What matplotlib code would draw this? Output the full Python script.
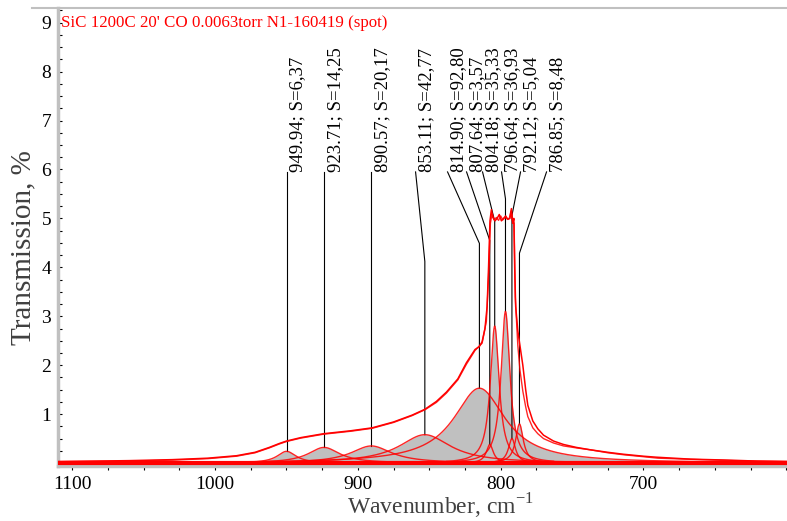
import numpy as np
import matplotlib
matplotlib.use("Agg")
import matplotlib.pyplot as plt
import matplotlib.transforms as mtransforms
from matplotlib.lines import Line2D

plt.rcParams['font.family'] = ['Liberation Serif', 'DejaVu Serif']
plt.rcParams['mathtext.fontset'] = 'custom'
plt.rcParams['mathtext.rm'] = 'Liberation Serif'

# fitted components (Lorentz-like bands)
centers = [949.94, 923.71, 890.57, 853.11, 814.90, 807.64, 804.18, 796.64, 792.12, 786.85]
areas = ['6,37', '14,25', '20,17', '42,77', '92,80', '3,57', '35,33', '36,93', '5,04', '8,48']
heights = [0.24, 0.32, 0.35, 0.58, 1.53, 0.38, 2.80, 3.10, 0.50, 0.80]
fwhm = [16, 27, 35, 44, 44, 6, 7.5, 7.5, 6, 6.5]

meas_wn = [1110, 1060, 1030, 1005, 985, 972, 962, 955, 950, 940, 924, 905, 890, 875,
           862, 853, 845, 838, 830, 824, 818, 815, 813, 811, 809.5, 808.5, 807.5,
           806.5, 805.5, 804, 802.5, 801, 799.5, 798, 796.5, 795, 793.5, 792.5,
           791.5, 790.8, 790.2, 789.5, 788, 786.5, 784.5, 782.5, 781, 777.5, 774,
           770, 763, 756, 747, 737, 725, 714, 700, 691, 667, 640, 620, 596]
meas_y = [0.03, 0.05, 0.07, 0.10, 0.15, 0.22, 0.32, 0.40, 0.45, 0.52, 0.60, 0.66, 0.72, 0.84,
          0.98, 1.10, 1.26, 1.45, 1.72, 2.05, 2.32, 2.38, 2.48, 2.75, 3.2, 4.0, 4.95,
          5.18, 5.02, 4.95, 5.0, 5.08, 4.95, 5.0, 5.05, 4.98, 5.0, 5.2,
          4.9, 5.0, 4.0, 3.2, 2.7, 2.4, 2.0, 1.5, 1.18, 0.86, 0.70,
          0.57, 0.45, 0.38, 0.32, 0.27, 0.22, 0.18, 0.14, 0.12, 0.08, 0.06, 0.04, 0.03]
fit_wn = [1110, 1060, 1030, 1005, 985, 972, 962, 955, 950, 940, 924, 905, 890, 875,
          862, 853, 845, 838, 830, 824, 818, 813, 810, 808.5, 807.2, 806, 804.5,
          803, 801.5, 800, 798.5, 797, 795.5, 794, 792.8, 791.8, 790.6, 789.8,
          788, 786.5, 784.5, 782.5, 781, 777.5, 774, 770, 763, 756, 747, 737,
          725, 714, 700, 690, 660, 640, 620, 596]
fit_y = [0.03, 0.04, 0.06, 0.09, 0.14, 0.21, 0.31, 0.39, 0.44, 0.51, 0.59, 0.65, 0.71, 0.83,
         0.97, 1.09, 1.24, 1.43, 1.70, 2.02, 2.30, 2.45, 2.9, 3.8, 4.9, 5.1, 4.97,
         5.02, 4.96, 5.05, 4.97, 5.02, 4.99, 5.0, 5.15, 4.95, 4.9, 3.4,
         2.4, 1.9, 1.47, 1.15, 0.95, 0.72, 0.60, 0.50, 0.41, 0.35, 0.31, 0.27,
         0.21, 0.17, 0.13, 0.10, 0.07, 0.05, 0.04, 0.03]

title = "SiC 1200C 20' CO 0.0063torr N1-160419 (spot)"

# layout of the band labels (x of the label foot, height of the bend)
label_x = [949.94, 923.71, 890.57, 859.6, 837.2, 823.9, 812.7, 799.4, 786.1, 767.9]
label_y = 5.95
knee_y = [5.95, 5.95, 5.95, 4.12, 4.49, 4.55, 4.94, 5.4, 5.06, 4.29]

fig = plt.figure(figsize=(7.87, 5.21), dpi=100)
ax = fig.add_axes([58 / 787, (521 - 466) / 521, (787 - 58) / 787, (466 - 8) / 521])

grid = np.linspace(1110, 596, 3000)
curves = []
for c, h, w in zip(centers, heights, fwhm):
    hw = w / 2.0
    y = h * hw ** 2 / ((grid - c) ** 2 + hw ** 2)
    mask = np.abs(grid - c) <= 4.5 * w
    curves.append((grid[mask], y[mask]))

for gx, gy in curves:
    ax.fill_between(gx, 0, gy, color='#c0c0c0', lw=0, zorder=1)

for c, h, lx, ky in zip(centers, heights, label_x, knee_y):
    ax.plot([lx, c, c], [label_y, ky, h], color='black', lw=0.8, zorder=2)

ax.axhline(0.0, color='red', lw=3, zorder=3)
for gx, gy in curves:
    ax.plot(gx, gy, color='red', lw=1.0, alpha=0.85, zorder=3)
ax.plot(fit_wn, fit_y, color='red', lw=1.0, alpha=0.85, zorder=4)
ax.plot(meas_wn, meas_y, color='red', lw=1.1, zorder=4)

off = mtransforms.offset_copy(ax.transData, fig=fig, x=3, y=0, units='dots')
for lx, c, s in zip(label_x, centers, areas):
    ax.text(lx, label_y, '%.2f; S=%s' % (c, s), rotation=90, ha='left', va='bottom',
            fontsize=13.5, transform=off, zorder=5)

ax.text(0.004, 0.985, title, transform=ax.transAxes, color='red', fontsize=12.2,
        ha='left', va='top')

ax.set_xlim(1110, 599.5)
ax.set_ylim(-0.06, 9.3)
ax.set_xticks([1100, 1000, 900, 800, 700])
ax.set_xticks(np.arange(600, 1110, 25), minor=True)
ax.set_yticks(np.arange(1, 10))
ax.set_yticks(np.arange(0, 9.3, 0.25), minor=True)
ax.tick_params(axis='x', which='both', direction='out', length=3, width=0.8,
               labelsize=14, pad=4)
ax.tick_params(axis='y', which='both', direction='in', length=3, width=0.8,
               labelsize=14, pad=5)

for side in ['top', 'right']:
    ax.spines[side].set_visible(False)
ax.spines['left'].set_color('#c0c0c0')
ax.spines['left'].set_linewidth(2.5)
ax.spines['bottom'].set_color('#c0c0c0')
ax.spines['bottom'].set_linewidth(2.5)
fig.add_artist(Line2D([32 / 787, 1], [1 - 8 / 521, 1 - 8 / 521], color='#c0c0c0', lw=1.5))

ax.set_ylabel('Transmission, %', fontsize=21, color='#404040')
ax.yaxis.set_label_coords(-0.029, 0.476)
ax.set_xlabel('Wavenumber, cm$^{-1}$', fontsize=17, color='#404040')
ax.xaxis.set_label_coords(0.525, -0.057)

fig.savefig('out.png', dpi=100)
